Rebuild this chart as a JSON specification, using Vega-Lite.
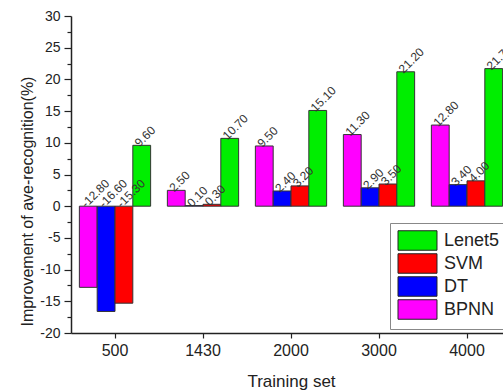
{
  "$schema": "https://vega.github.io/schema/vega-lite/v6.json",
  "autosize": "none",
  "width": 432,
  "height": 317,
  "padding": {"left": 71, "top": 16, "right": 0, "bottom": 59},
  "background": "white",
  "config": {
    "view": {"stroke": null},
    "font": "Liberation Sans",
    "locale": {"number": {"decimal": ".", "thousands": ",", "grouping": [3], "currency": ["$", ""], "minus": "-"}},
    "axis": {"domainColor": "#222", "tickColor": "#222", "labelColor": "#222", "titleColor": "#222", "domainWidth": 1.5, "tickWidth": 1.2, "grid": false}
  },
  "data": {"values": [
    {"set": "500", "model": "BPNN", "value": -12.8},
    {"set": "500", "model": "DT", "value": -16.6},
    {"set": "500", "model": "SVM", "value": -15.3},
    {"set": "500", "model": "Lenet5", "value": 9.6},
    {"set": "1430", "model": "BPNN", "value": 2.5},
    {"set": "1430", "model": "DT", "value": 0.1},
    {"set": "1430", "model": "SVM", "value": 0.3},
    {"set": "1430", "model": "Lenet5", "value": 10.7},
    {"set": "2000", "model": "BPNN", "value": 9.5},
    {"set": "2000", "model": "DT", "value": 2.4},
    {"set": "2000", "model": "SVM", "value": 3.2},
    {"set": "2000", "model": "Lenet5", "value": 15.1},
    {"set": "3000", "model": "BPNN", "value": 11.3},
    {"set": "3000", "model": "DT", "value": 2.9},
    {"set": "3000", "model": "SVM", "value": 3.5},
    {"set": "3000", "model": "Lenet5", "value": 21.2},
    {"set": "4000", "model": "BPNN", "value": 12.8},
    {"set": "4000", "model": "DT", "value": 3.4},
    {"set": "4000", "model": "SVM", "value": 4.0},
    {"set": "4000", "model": "Lenet5", "value": 21.7}
  ]},
  "encoding": {
    "x": {
      "field": "set", "type": "nominal", "sort": ["500", "1430", "2000", "3000", "4000"],
      "scale": {"range": [0, 440], "paddingInner": 0.19, "paddingOuter": 0.095},
      "axis": {"title": "Training set", "labelAngle": 0, "labelFontSize": 16, "titleFontSize": 17, "titleFontWeight": "normal", "tickSize": 5, "labelPadding": 4, "titlePadding": 15}
    },
    "xOffset": {"field": "model", "type": "nominal", "sort": ["BPNN", "DT", "SVM", "Lenet5"]}
  },
  "layer": [
    {
      "mark": {"type": "bar", "stroke": "#333", "strokeWidth": 1},
      "encoding": {
        "y": {
          "field": "value", "type": "quantitative",
          "scale": {"domain": [-20, 30], "nice": false, "zero": false},
          "axis": {
            "title": "Improvement of ave-recognition(%)",
            "values": [-20, -17.5, -15, -12.5, -10, -7.5, -5, -2.5, 0, 2.5, 5, 7.5, 10, 12.5, 15, 17.5, 20, 22.5, 25, 27.5, 30],
            "labelExpr": "datum.value % 5 === 0 ? datum.label : ''",
            "labelOverlap": false,
            "tickSize": {"condition": {"test": "datum.value % 5 === 0", "value": 7}, "value": 4},
            "labelFontSize": 14, "titleFontSize": 16, "titleFontWeight": "normal", "titlePadding": 4, "labelPadding": 4, "titleY": 185
          }
        },
        "color": {
          "field": "model", "type": "nominal",
          "scale": {"domain": ["Lenet5", "SVM", "DT", "BPNN"], "range": ["#00EE00", "#FF0000", "#0000FF", "#FF00FF"]},
          "legend": {
            "title": null, "orient": "none", "legendX": 319, "legendY": 207,
            "symbolType": "M-2,-1H2V1H-2Z", "symbolSize": 380, "symbolOffset": 10,
            "symbolStrokeColor": "#222", "symbolStrokeWidth": 1, "symbolOpacity": 1,
            "labelFontSize": 18, "labelColor": "#222", "labelOffset": 16,
            "rowPadding": -3, "strokeColor": "#888", "padding": 7, "fillColor": "white"
          }
        }
      }
    },
    {
      "transform": [{"filter": "datum.value >= 0"}],
      "mark": {"type": "text", "angle": -45, "align": "left", "baseline": "middle", "fontSize": 12, "color": "#333", "dx": -3, "dy": -4},
      "encoding": {
        "y": {
          "field": "value", "type": "quantitative",
          "axis": {
            "title": "Improvement of ave-recognition(%)",
            "values": [-20, -17.5, -15, -12.5, -10, -7.5, -5, -2.5, 0, 2.5, 5, 7.5, 10, 12.5, 15, 17.5, 20, 22.5, 25, 27.5, 30],
            "labelExpr": "datum.value % 5 === 0 ? datum.label : ''",
            "labelOverlap": false,
            "tickSize": {"condition": {"test": "datum.value % 5 === 0", "value": 7}, "value": 4},
            "labelFontSize": 14, "titleFontSize": 16, "titleFontWeight": "normal", "titlePadding": 4, "labelPadding": 4, "titleY": 185
          }
        },
        "text": {"field": "value", "type": "quantitative", "format": ".2f"}
      }
    },
    {
      "transform": [{"filter": "datum.value < 0"}],
      "mark": {"type": "text", "angle": -45, "align": "left", "baseline": "middle", "fontSize": 12, "color": "#333", "dx": -3, "dy": -4},
      "encoding": {
        "y": {
          "datum": 0, "type": "quantitative",
          "axis": {
            "title": "Improvement of ave-recognition(%)",
            "values": [-20, -17.5, -15, -12.5, -10, -7.5, -5, -2.5, 0, 2.5, 5, 7.5, 10, 12.5, 15, 17.5, 20, 22.5, 25, 27.5, 30],
            "labelExpr": "datum.value % 5 === 0 ? datum.label : ''",
            "labelOverlap": false,
            "tickSize": {"condition": {"test": "datum.value % 5 === 0", "value": 7}, "value": 4},
            "labelFontSize": 14, "titleFontSize": 16, "titleFontWeight": "normal", "titlePadding": 4, "labelPadding": 4, "titleY": 185
          }
        },
        "text": {"field": "value", "type": "quantitative", "format": ".2f"}
      }
    }
  ]
}
